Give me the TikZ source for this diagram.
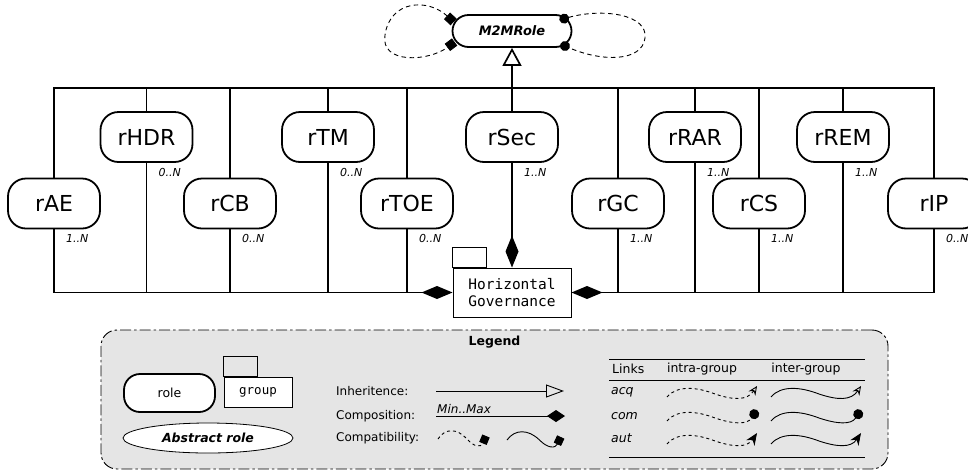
\documentclass[tikz,border=0pt]{standalone}
\usepackage{fontspec}
\setmainfont{DejaVu Sans}
\setmonofont{DejaVu Sans Mono}
\usetikzlibrary{arrows.meta,shapes.geometric,calc}

\tikzset{
  linkwave/.pic={\draw[pic actions] (0,0) .. controls (10,-12) and (30,-10) .. (48,-3) .. controls (66,3) and (80,4) .. (90,-11);},
  compatwave/.pic={\draw[pic actions] (0,0) .. controls (7,-11) and (19,-11) .. (29,0) .. controls (36,8) and (43,9) .. (48,-3);}
}

\begin{document}
\begin{tikzpicture}[x=1pt,y=-1pt,
  conn/.style={line width=1.7pt},
  role/.style={draw,line width=1.8pt,rounded corners=18pt,fill=white,minimum width=92pt,minimum height=50pt,inner sep=0pt,font=\fontsize{22}{26}\selectfont},
  mult/.style={inner sep=0pt,anchor=north west,font=\itshape\fontsize{11}{13}\selectfont},
  groupbox/.style={draw,line width=1pt,fill=white,inner sep=0pt},
  lbl/.style={inner sep=0pt,anchor=west,font=\fontsize{12}{14}\selectfont},
  ilbl/.style={inner sep=0pt,anchor=west,font=\itshape\fontsize{12.5}{15}\selectfont},
  loopline/.style={line width=0.9pt,dash pattern=on 4.5pt off 3.5pt},
  sample/.style={line width=0.9pt},
  dsample/.style={line width=0.9pt,dash pattern=on 3pt off 3pt},
  compdiamond/.style={-{Diamond[length=31pt,width=13pt]}},
  compat/.style={-{Square[length=8pt,width=8pt]}},
  rule/.style={line width=0.9pt},
]
\useasboundingbox (0,0) rectangle (968,472);

% abstract role on top
\node (m2m) [draw,line width=1.8pt,rounded corners=16pt,fill=white,minimum width=119pt,minimum height=32pt,inner sep=0pt,
  font=\bfseries\itshape\fontsize{13}{15}\selectfont] at (512,31) {M2MRole};

% self links of the abstract role
\draw[loopline,{Square[length=9pt,width=9pt]}-{Square[length=9pt,width=9pt]}]
  ([shift={(2,-9)}]m2m.west) .. controls (428,-2) and (390,0) .. (385,35)
  .. controls (380,64) and (428,62) .. ([shift={(3,11)}]m2m.west);
\draw[loopline,{Circle[length=10pt,width=10pt]}-{Circle[length=10pt,width=10pt]}]
  ([shift={(-13,-11)}]m2m.east) .. controls (602,8) and (648,14) .. (645,38)
  .. controls (642,62) and (602,62) .. ([shift={(-12,13)}]m2m.east);

% roles
\node (rAE)  [role] at (54,203.5)  {rAE};
\node (rHDR) [role] at (146.5,137) {rHDR};
\node (rCB)  [role] at (230,203.5) {rCB};
\node (rTM)  [role] at (328,137)   {rTM};
\node (rTOE) [role] at (407,203.5) {rTOE};
\node (rSec) [role] at (512,137)   {rSec};
\node (rGC)  [role] at (618,203.5) {rGC};
\node (rRAR) [role] at (695,137)   {rRAR};
\node (rCS)  [role] at (759,203.5) {rCS};
\node (rREM) [role] at (843,137)   {rREM};
\node (rIP)  [role] at (934,203.5) {rIP};

% group
\node (hg) [groupbox,minimum width=118pt,minimum height=49pt,align=center,
  font=\ttfamily\fontsize{14.5}{17}\selectfont] at (512,292.5) {Horizontal\\Governance};
\draw[line width=1pt] (hg.north west) rectangle ++(34,-20);

\coordinate (top) at (0,88);

% inheritance bar
\draw[conn] (rAE.north) -- (rAE.north |- top) -- (rIP.north |- top) -- (rIP.north);
\foreach \r in {rHDR,rCB,rTM,rTOE,rSec,rGC,rRAR,rCS,rREM}
  \draw[conn] (\r.north |- top) -- (\r.north);
\draw[conn,-{Triangle[open,length=18pt,width=19pt]}] (rSec.north |- top) -- (m2m.south);

% compositions into the group
\draw[conn,compdiamond] (rAE.south) |- (hg.west);
\draw[conn,compdiamond] (rIP.south) |- (hg.east);
\foreach \r in {rHDR,rCB,rTM,rTOE}
  \draw[conn] (\r.south) -- (\r.south |- hg.west);
\foreach \r in {rGC,rRAR,rCS,rREM}
  \draw[conn] (\r.south) -- (\r.south |- hg.east);
\draw[conn,-{Diamond[length=32pt,width=13pt]}] (rSec.south) -- (hg.north);

% cardinalities
\node (mAE)  [mult] at ([shift={(12,5)}]rAE.south)  {1..N};
\node (mHDR) [mult] at ([shift={(12,5)}]rHDR.south) {0..N};
\node (mCB)  [mult] at ([shift={(12,5)}]rCB.south)  {0..N};
\node (mTM)  [mult] at ([shift={(12,5)}]rTM.south)  {0..N};
\node (mTOE) [mult] at ([shift={(12,5)}]rTOE.south) {0..N};
\node (mSec) [mult] at ([shift={(12,5)}]rSec.south) {1..N};
\node (mGC)  [mult] at ([shift={(12,5)}]rGC.south)  {1..N};
\node (mRAR) [mult] at ([shift={(12,5)}]rRAR.south) {1..N};
\node (mCS)  [mult] at ([shift={(12,5)}]rCS.south)  {1..N};
\node (mREM) [mult] at ([shift={(12,5)}]rREM.south) {1..N};
\node (mIP)  [mult] at ([shift={(12,5)}]rIP.south)  {0..N};

% legend frame
\node (legend) [draw,line width=0.9pt,dash pattern=on 11pt off 3pt on 2.5pt off 3pt,fill=black!10,
  rounded corners=16pt,minimum width=787pt,minimum height=139pt,inner sep=0pt] at (494.5,399.5) {};
\node (legtitle) [inner sep=0pt,font=\bfseries\fontsize{12.5}{15}\selectfont] at (494.5,342) {Legend};

% legend shapes
\node (lrole) [role,minimum width=91pt,minimum height=38pt,rounded corners=16pt,font=\fontsize{12.5}{15}\selectfont] at (169.5,393) {role};
\node (lgroup) [groupbox,minimum width=68pt,minimum height=30pt,font=\ttfamily\fontsize{12.5}{15}\selectfont] at (258,392) {group};
\draw[line width=1pt] (lgroup.north west) rectangle ++(34,-20);
\node (labs) [draw,ellipse,line width=0.8pt,fill=white,minimum width=170pt,minimum height=30pt,inner sep=0pt,
  font=\bfseries\itshape\fontsize{12.5}{15}\selectfont] at (208,438) {Abstract role};

% legend relations
\node (linh)  [lbl] at (336,391) {Inheritence:};
\node (lcomp) [lbl] at (336,416) {Composition:};
\node (lcpt)  [lbl] at (336,438) {Compatibility:};
\coordinate (inhA) at (436,391);
\coordinate (inhB) at (564,391);
\draw[sample,-{Triangle[open,length=18pt,width=13pt]}] (inhA) -- (inhB);
\coordinate (cmpA) at (436,416);
\coordinate (cmpB) at (565,416);
\draw[sample,-{Diamond[length=18pt,width=12pt]}] (cmpA) -- (cmpB);
\node (minmax) [inner sep=0pt,anchor=south west,font=\itshape\fontsize{12}{14}\selectfont] at (437,413.5) {Min..Max};
\pic[dsample,compat] at (438,439) {compatwave};
\pic[sample,compat,xscale=1.12] at (507,440) {compatwave};

% link table
\draw[rule] (609,359) -- (865,359);
\draw[rule] (609,380) -- (865,380);
\draw[rule] (609,457) -- (865,457);
\node (hLinks) [lbl,font=\fontsize{12.5}{15}\selectfont] at (612,369) {Links};
\node (hIntra) [inner sep=0pt,font=\fontsize{12.5}{15}\selectfont] at (702,369) {intra-group};
\node (hInter) [inner sep=0pt,font=\fontsize{12.5}{15}\selectfont] at (806,369) {inter-group};
\node (tacq) [ilbl] at (611,392) {acq};
\node (tcom) [ilbl] at (611,416) {com};
\node (taut) [ilbl] at (611,438) {aut};
\pic[dsample,-{Stealth[open,length=9pt,width=8pt]}] at (667,397) {linkwave};
\pic[sample,-{Stealth[open,length=9pt,width=8pt]}] at (771,397) {linkwave};
\pic[dsample,-{Circle[length=10pt,width=10pt]}] at (667,421) {linkwave};
\pic[sample,-{Circle[length=10pt,width=10pt]}] at (771,421) {linkwave};
\pic[dsample,-{Stealth[length=12pt,width=10pt]}] at (667,444) {linkwave};
\pic[sample,-{Stealth[length=12pt,width=10pt]}] at (771,444) {linkwave};
\end{tikzpicture}
\end{document}
